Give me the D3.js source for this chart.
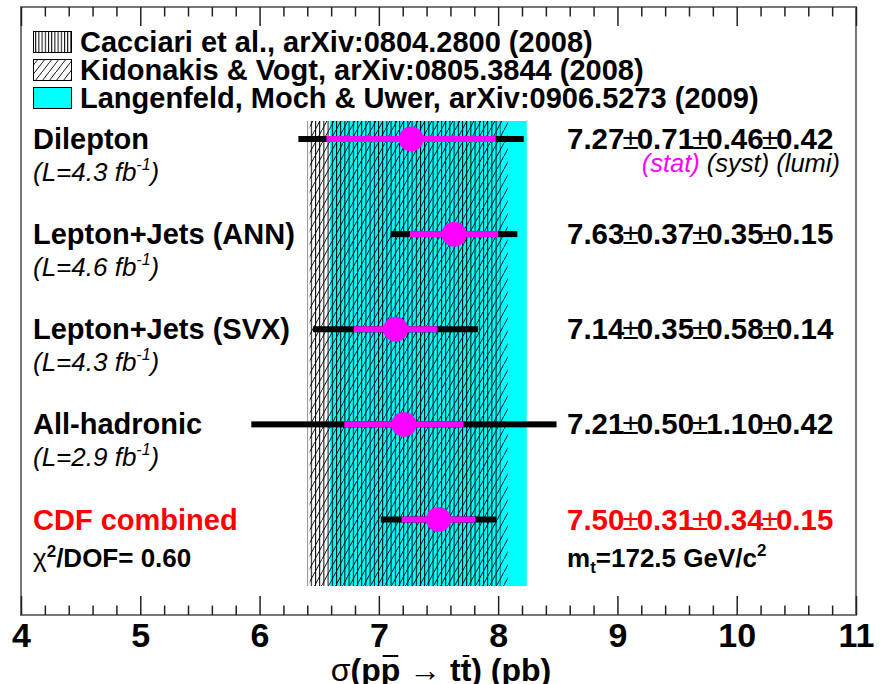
<!DOCTYPE html>
<html><head><meta charset="utf-8">
<script src="https://cdn.jsdelivr.net/npm/d3@7"></script>
<style>
body{margin:0;background:#fff}
svg{display:block}
text{font-family:"Liberation Sans",Arial,Helvetica,sans-serif}
</style>
</head><body>
<svg id="chart" width="896" height="684"></svg>
<script>
// ---------------- data ----------------
const measurements = ["Dilepton", "Lepton+Jets (ANN)", "Lepton+Jets (SVX)", "All-hadronic", "CDF combined"];
const luminosities = ["4.3", "4.6", "4.3", "2.9", null];
const centralValues = [7.27, 7.63, 7.14, 7.21, 7.50];
const statErrors = [0.71, 0.37, 0.35, 0.50, 0.31];
const systErrors = [0.46, 0.35, 0.58, 1.10, 0.34];
const lumiErrors = [0.42, 0.15, 0.14, 0.42, 0.15];

const theoryNames = ["Cacciari et al., arXiv:0804.2800 (2008)",
                     "Kidonakis & Vogt, arXiv:0805.3844 (2008)",
                     "Langenfeld, Moch & Uwer, arXiv:0906.5273 (2009)"];
const theoryLow = [6.40, 6.42, 6.59];
const theoryHigh = [8.02, 8.08, 8.24];

const majorTicks = [4, 5, 6, 7, 8, 9, 10, 11];
const minorTicks = d3.range(4, 11.001, 0.2).map(v => +v.toFixed(1));
const chi2Label = "0.60";
const topMass = "172.5";

// ---------------- layout ----------------
const svg = d3.select("#chart");
const frame = {left: 21, right: 856, top: 7, bottom: 615};
const x = d3.scaleLinear().domain([4, 11]).range([frame.left, frame.right]);
const y = d3.scalePoint().domain(measurements).range([139, 519.5]);
const bandTop = 121, bandBottom = 586;
const barH = 6;

const defs = svg.append("defs");
// vertical hatch
const pv = defs.append("pattern").attr("id", "vhatch").attr("patternUnits", "userSpaceOnUse")
  .attr("width", 4.2).attr("height", 10);
pv.append("line").attr("x1", 0.5).attr("x2", 0.5).attr("y1", 0).attr("y2", 10)
  .attr("stroke", "#000").attr("stroke-width", 1);
const pvL = defs.append("pattern").attr("id", "vhatchL").attr("patternUnits", "userSpaceOnUse")
  .attr("width", 3.2).attr("height", 10);
pvL.append("line").attr("x1", 0.5).attr("x2", 0.5).attr("y1", 0).attr("y2", 10)
  .attr("stroke", "#000").attr("stroke-width", 1);
// diagonal hatch (steep)
const pd = defs.append("pattern").attr("id", "dhatch").attr("patternUnits", "userSpaceOnUse")
  .attr("width", 7).attr("height", 13);
pd.append("line").attr("x1", -3.5).attr("y1", 19.5).attr("x2", 10.5).attr("y2", -6.5)
  .attr("stroke", "#000").attr("stroke-width", 0.9);
// legend diagonal
const pl = defs.append("pattern").attr("id", "dhatchL").attr("patternUnits", "userSpaceOnUse")
  .attr("width", 7).attr("height", 9);
pl.append("line").attr("x1", -3.5).attr("y1", 13.5).attr("x2", 10.5).attr("y2", -4.5)
  .attr("stroke", "#000").attr("stroke-width", 0.9);

// ---------------- theory bands ----------------
const bandFills = ["url(#vhatch)", "url(#dhatch)", "#00ffff"];
[2, 1, 0].forEach(i => {
  svg.append("rect")
    .attr("x", x(theoryLow[i])).attr("width", x(theoryHigh[i]) - x(theoryLow[i]))
    .attr("y", bandTop).attr("height", bandBottom - bandTop)
    .attr("fill", bandFills[i]);
});

// ---------------- frame & axes ----------------
svg.append("rect").attr("x", frame.left).attr("y", frame.top)
  .attr("width", frame.right - frame.left).attr("height", frame.bottom - frame.top)
  .attr("fill", "none").attr("stroke", "#777").attr("stroke-width", 2);

function tickAxis(axisFn, ypos, vals, size) {
  const g = svg.append("g").attr("transform", `translate(0,${ypos})`)
    .call(axisFn(x).tickValues(vals).tickSize(size).tickFormat(""));
  g.select(".domain").remove();
  g.selectAll("line").attr("stroke", "#222").attr("stroke-width", 1.5);
  return g;
}
const minorOnly = minorTicks.filter(v => !majorTicks.includes(v));
tickAxis(d3.axisBottom, frame.bottom, majorTicks, -19);
tickAxis(d3.axisBottom, frame.bottom, minorOnly, -9.5);
tickAxis(d3.axisTop, frame.top, majorTicks, -19);
tickAxis(d3.axisTop, frame.top, minorOnly, -9.5);

const lab = svg.append("g").attr("transform", `translate(0,${frame.bottom})`)
  .call(d3.axisBottom(x).tickValues(majorTicks).tickSize(0).tickPadding(8).tickFormat(d3.format("d")));
lab.select(".domain").remove();
lab.selectAll("text").attr("font-size", 34).attr("font-weight", "bold").attr("fill", "#000")
  .attr("font-family", '"Liberation Sans",Arial,sans-serif');

// axis title
const titleY = 681;
const title = svg.append("text").attr("x", 441).attr("y", titleY).attr("text-anchor", "middle")
  .attr("font-size", 32).attr("font-weight", "bold").attr("fill", "#000");
title.append("tspan").attr("font-weight", "normal").text("σ");
title.append("tspan").text("(pp");
title.append("tspan").attr("font-weight", "normal").text(" → ");
title.append("tspan").text("tt) (pb)");
// overbars over second p and second t
const tnode = title.node();
const full = tnode.textContent;
[full.indexOf("pp") + 1, full.indexOf("tt") + 1].forEach(ci => {
  const e = tnode.getExtentOfChar(ci);
  svg.append("line").attr("x1", e.x + 2).attr("x2", e.x + e.width - 2)
    .attr("y1", titleY - 25).attr("y2", titleY - 25).attr("stroke", "#000").attr("stroke-width", 2);
});

// ---------------- legend ----------------
const legFills = ["url(#vhatchL)", "url(#dhatchL)", "#00ffff"];
theoryNames.forEach((n, i) => {
  const cy = 42 + i * 28;
  svg.append("rect").attr("x", 33.5).attr("y", cy - 10.5).attr("width", 38).attr("height", 21)
    .attr("fill", "#fff").attr("stroke", "none");
  svg.append("rect").attr("x", 33.5).attr("y", cy - 10.5).attr("width", 38).attr("height", 21)
    .attr("fill", legFills[i]).attr("stroke", "#000").attr("stroke-width", 1);
  svg.append("text").attr("x", 80).attr("y", cy + 10).attr("font-size", 29)
    .attr("font-weight", "bold").attr("fill", "#000").text(n);
});

// ---------------- measurements ----------------
const f = d3.format(".2f");
measurements.forEach((m, i) => {
  const yc = y(m);
  const v = centralValues[i];
  const tot = Math.sqrt(statErrors[i] ** 2 + systErrors[i] ** 2 + lumiErrors[i] ** 2);
  svg.append("rect").attr("x", x(v - tot)).attr("width", x(v + tot) - x(v - tot))
    .attr("y", yc - barH / 2).attr("height", barH).attr("fill", "#000");
  svg.append("rect").attr("x", x(v - statErrors[i])).attr("width", x(v + statErrors[i]) - x(v - statErrors[i]))
    .attr("y", yc - barH / 2).attr("height", barH).attr("fill", "#ff00ff");
  svg.append("circle").attr("cx", x(v)).attr("cy", yc).attr("r", 12.5).attr("fill", "#ff00ff");

  const col = i === measurements.length - 1 ? "#ff0000" : "#000";
  svg.append("text").attr("x", 33).attr("y", yc + 10).attr("font-size", 29)
    .attr("font-weight", "bold").attr("fill", col).text(m);
  if (luminosities[i]) {
    const t = svg.append("text").attr("x", 33).attr("y", yc + 42).attr("font-size", 26)
      .attr("font-style", "italic").attr("fill", "#000");
    t.append("tspan").text(`(L=${luminosities[i]} fb`);
    t.append("tspan").attr("font-size", 16).attr("dy", -11).text("-1");
    t.append("tspan").attr("dy", 11).text(")");
  }
  const nt = svg.append("text").attr("x", 567).attr("y", yc + 10).attr("font-size", 29.5)
    .attr("font-weight", "bold").attr("fill", col);
  nt.append("tspan").text(f(v));
  [statErrors[i], systErrors[i], lumiErrors[i]].forEach(e => {
    nt.append("tspan").attr("font-weight", "normal").attr("dx", -2).text("±");
    nt.append("tspan").attr("dx", -2).text(f(e));
  });
});

// (stat) (syst) (lumi) under the first row
const st = svg.append("text").attr("x", 840).attr("y", y(measurements[0]) + 33)
  .attr("text-anchor", "end").attr("font-size", 25.5).attr("font-style", "italic").attr("fill", "#000");
st.append("tspan").attr("fill", "#ff00ff").text("(stat)");
st.append("tspan").text(" (syst) (lumi)");

// chi2 and top mass
const yComb = y(measurements[measurements.length - 1]);
const ch = svg.append("text").attr("x", 33).attr("y", yComb + 47.5).attr("font-size", 26)
  .attr("font-weight", "bold").attr("fill", "#000");
ch.append("tspan").attr("font-weight", "normal").text("χ");
ch.append("tspan").attr("font-size", 17).attr("dy", -10).text("2");
ch.append("tspan").attr("dy", 10).text(`/DOF= ${chi2Label}`);

const mt = svg.append("text").attr("x", 567).attr("y", yComb + 47).attr("font-size", 26)
  .attr("font-weight", "bold").attr("fill", "#000");
mt.append("tspan").text("m");
mt.append("tspan").attr("font-size", 17).attr("dy", 6).text("t");
mt.append("tspan").attr("dy", -6).text(`=${topMass} GeV/c`);
mt.append("tspan").attr("font-size", 17).attr("dy", -11).text("2");
</script>
</body></html>
